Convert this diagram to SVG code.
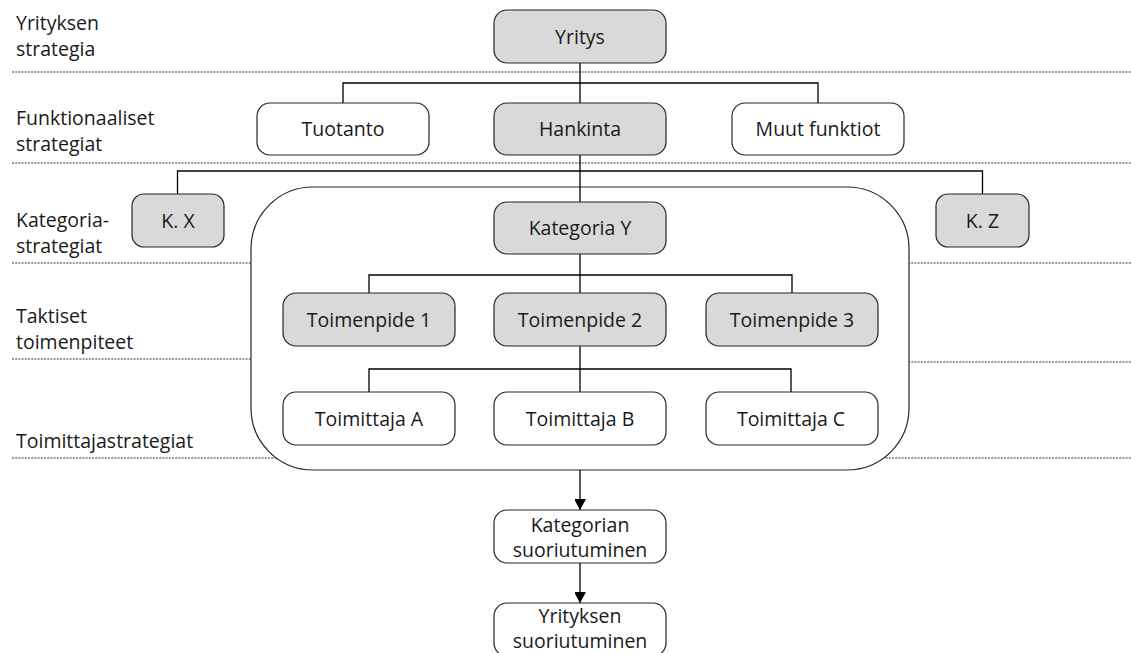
<svg xmlns="http://www.w3.org/2000/svg" width="1131" height="653" viewBox="0 0 1131 653">
<style>
text{font-family:"Open Sans","Liberation Sans",sans-serif;font-size:19.5px;fill:#1a1a1a}
.c{text-anchor:middle}
.g{fill:#d9d9d9;stroke:#262626;stroke-width:1.2}
.w{fill:#fff;stroke:#262626;stroke-width:1.2}
.dot{stroke:#333;stroke-width:1.2;stroke-dasharray:2 1.2;fill:none}
.ln{stroke:#000;stroke-width:1.3;fill:none}
</style>
<defs>
<marker id="ah" markerWidth="12" markerHeight="11" refX="11" refY="6" orient="auto" markerUnits="userSpaceOnUse">
<path d="M0,0 L11,6 L0,12 Z" fill="#000"/>
</marker>
</defs>
<rect width="1131" height="653" fill="#fff"/>
<g id="levels">
<line class="dot" x1="12" y1="72" x2="1131" y2="72"/>
<line class="dot" x1="12" y1="163" x2="1131" y2="163"/>
<line class="dot" x1="12" y1="263" x2="1131" y2="263"/>
<line class="dot" x1="12" y1="359" x2="300" y2="359"/>
<line class="dot" x1="860" y1="362" x2="1131" y2="362"/>
<line class="dot" x1="12" y1="458" x2="1131" y2="458"/>
<text x="16" y="30">Yrityksen</text>
<text x="16" y="56">strategia</text>
<text x="16" y="125">Funktionaaliset</text>
<text x="16" y="151">strategiat</text>
<text x="16" y="227">Kategoria-</text>
<text x="16" y="253">strategiat</text>
<text x="16" y="323">Taktiset</text>
<text x="16" y="349">toimenpiteet</text>
<text x="16" y="448">Toimittajastrategiat</text>
</g>
<g id="container">
<rect class="w" x="251" y="187" width="658" height="283" rx="62"/>
</g>
<g id="connectors">
<path class="ln" d="M580,63 V103 M343,103 V83 H818 V103"/>
<path class="ln" d="M580,155 V202 M177.5,194 V171 H982.5 V194"/>
<path class="ln" d="M580,254 V293 M369,293 V275 H792 V293"/>
<path class="ln" d="M580,346 V392 M369,392 V369 H791 V392"/>
<line class="ln" x1="580" y1="470" x2="580" y2="510" marker-end="url(#ah)"/>
<line class="ln" x1="580" y1="563" x2="580" y2="603" marker-end="url(#ah)"/>
</g>
<g id="yritys"><rect class="g" x="494" y="10" width="172" height="53" rx="13"/><text class="c" x="580" y="43.5">Yritys</text></g>
<g id="tuotanto"><rect class="w" x="257" y="103" width="172" height="52" rx="13"/><text class="c" x="343" y="136">Tuotanto</text></g>
<g id="hankinta"><rect class="g" x="494" y="103" width="172" height="52" rx="13"/><text class="c" x="580" y="136">Hankinta</text></g>
<g id="muut"><rect class="w" x="732" y="103" width="172" height="52" rx="13"/><text class="c" x="818" y="136">Muut funktiot</text></g>
<g id="kx"><rect class="g" x="132" y="194" width="92" height="53" rx="12"/><text class="c" x="178" y="227.5">K. X</text></g>
<g id="kz"><rect class="g" x="936" y="194" width="93" height="53" rx="12"/><text class="c" x="982.5" y="227.5">K. Z</text></g>
<g id="kategoriay"><rect class="g" x="494" y="202" width="172" height="52" rx="13"/><text class="c" x="580" y="235">Kategoria Y</text></g>
<g id="t1"><rect class="g" x="283" y="293" width="172" height="53" rx="13"/><text class="c" x="369" y="326.5">Toimenpide 1</text></g>
<g id="t2"><rect class="g" x="494" y="293" width="172" height="53" rx="13"/><text class="c" x="580" y="326.5">Toimenpide 2</text></g>
<g id="t3"><rect class="g" x="706" y="293" width="172" height="53" rx="13"/><text class="c" x="792" y="326.5">Toimenpide 3</text></g>
<g id="ta"><rect class="w" x="283" y="392" width="172" height="53" rx="13"/><text class="c" x="369" y="425.5">Toimittaja A</text></g>
<g id="tb"><rect class="w" x="494" y="392" width="172" height="53" rx="13"/><text class="c" x="580" y="425.5">Toimittaja B</text></g>
<g id="tc"><rect class="w" x="706" y="392" width="172" height="53" rx="13"/><text class="c" x="791" y="425.5">Toimittaja C</text></g>
<g id="katsuor"><rect class="w" x="494" y="510" width="172" height="53" rx="13"/><text class="c" x="580" y="531.5">Kategorian</text><text class="c" x="580" y="556.5">suoriutuminen</text></g>
<g id="yritsuor"><rect class="w" x="494" y="603" width="172" height="53" rx="13"/><text class="c" x="580" y="622.5">Yrityksen</text><text class="c" x="580" y="647.5">suoriutuminen</text></g>
</svg>
